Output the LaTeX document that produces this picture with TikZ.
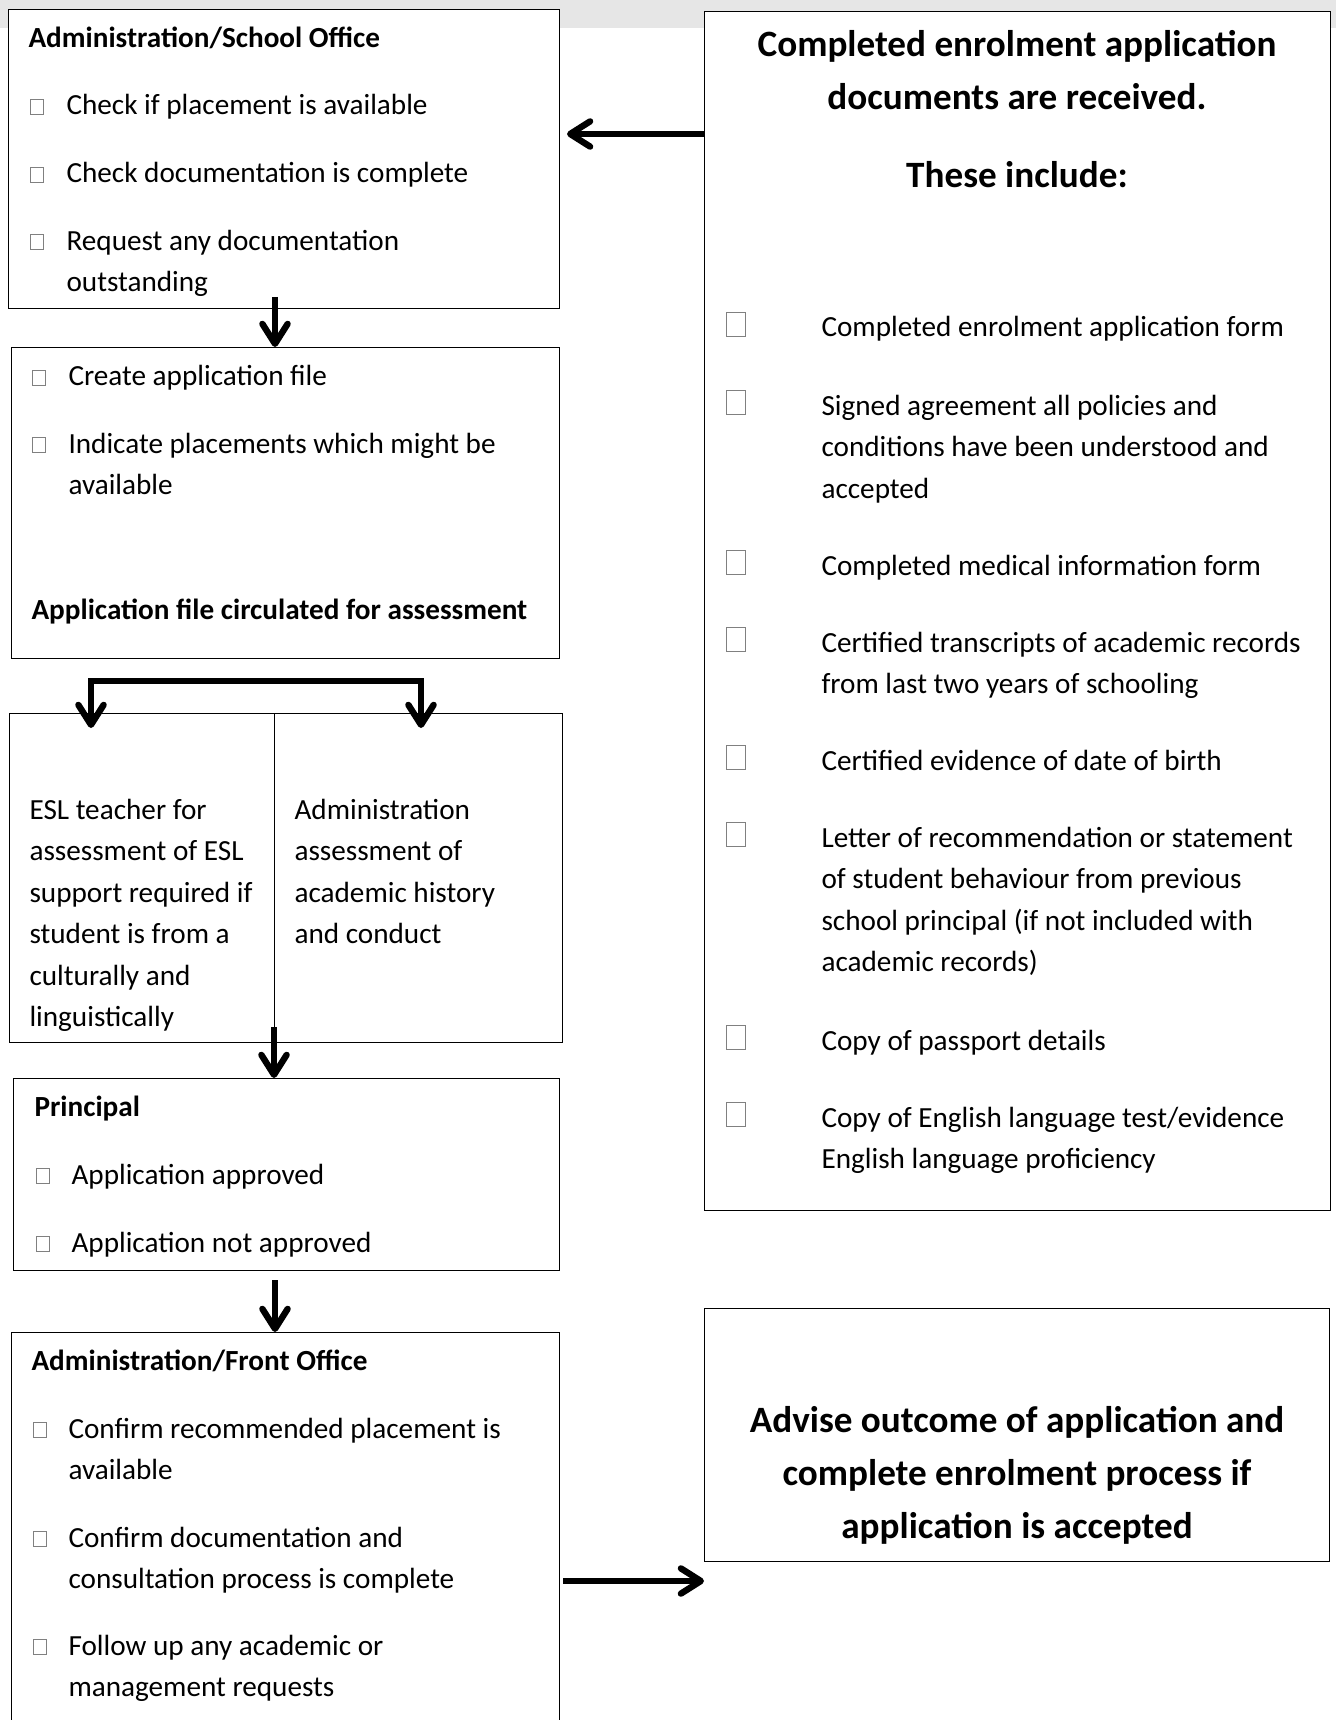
\documentclass[tikz,border=0pt]{standalone}
\usepackage{fontspec}
\setmainfont{Carlito}
\usetikzlibrary{arrows.meta}
\newcommand{\upx}{0.3767pt}
\definecolor{bandgrey}{HTML}{E6E6E6}

\begin{document}
\begin{tikzpicture}[
    x=\upx, y=-\upx,
    font=\fontsize{11}{15.6}\selectfont,
    >={Straight Barb[length=7.5pt,width=9.5pt,round]},
    box/.style={draw, line width=0.5pt, anchor=north west, inner sep=0pt, fill=white},
    tick/.style={draw=black!50, line width=0.35pt, anchor=south west, inner sep=0pt,
        minimum width=13*\upx, minimum height=15*\upx},
    bigtick/.style={tick, minimum width=19*\upx, minimum height=24*\upx},
    txt/.style={anchor=base west, align=left, inner sep=0pt},
    head/.style={txt, font=\fontsize{11}{15.6}\selectfont\bfseries},
    big/.style={anchor=base, inner sep=0pt, font=\fontsize{14}{20}\selectfont\bfseries},
    flow/.style={line width=2.4pt, ->}
]
    \useasboundingbox (0,0) rectangle (1336,1720);
    \clip (0,0) rectangle (1336,1720);
    \fill[bandgrey] (0,0) rectangle (1336,28);

    \node[box, minimum width=551*\upx, minimum height=299*\upx] (A) at (8,9) {};
    \node[box, minimum width=548*\upx, minimum height=311*\upx] (B) at (11,347) {};
    \node[box, minimum width=265*\upx, minimum height=329*\upx] (C1) at (9,713) {};
    \node[box, minimum width=288*\upx, minimum height=329*\upx] (C2) at (274,713) {};
    \node[box, minimum width=546*\upx, minimum height=192*\upx] (D) at (13,1078) {};
    \node[box, minimum width=548*\upx, minimum height=420*\upx] (E) at (11,1332) {};
    \node[box, minimum width=626*\upx, minimum height=1199*\upx] (R1) at (704,11) {};
    \node[box, minimum width=625*\upx, minimum height=253*\upx] (R2) at (704,1308) {};

    % multi-line texts sit on the baseline of their last line
    \node[head] (a0) at (28,48) {Administration/School Office};
    \node[tick] (ta1) at (30,115) {};
    \node[txt] (a1) at (66,115) {Check if placement is available};
    \node[tick] (ta2) at (30,183) {};
    \node[txt] (a2) at (66,183) {Check documentation is complete};
    \node[tick] (ta3) at (30,250) {};
    \node[txt] (a3) at (66,291.5) {Request any documentation\\outstanding};

    \node[tick] (tb1) at (32,386) {};
    \node[txt] (b1) at (68,386) {Create application file};
    \node[tick] (tb2) at (32,453) {};
    \node[txt] (b2) at (68,494.5) {Indicate placements which might be\\available};
    \node[head] (b3) at (31,619) {Application file circulated for assessment};

    \node[txt] (c1) at (29,1026.5) {ESL teacher for\\assessment of ESL\\support required if\\student is from a\\culturally and\\linguistically};
    \node[txt] (c2) at (294,943.5) {Administration\\assessment of\\academic history\\and conduct};

    \node[head] (d0) at (34,1116) {Principal};
    \node[tick] (td1) at (36,1184) {};
    \node[txt] (d1) at (71,1184) {Application approved};
    \node[tick] (td2) at (36,1252) {};
    \node[txt] (d2) at (71,1252) {Application not approved};

    \node[head] (e0) at (31,1370) {Administration/Front Office};
    \foreach \yb/\yl/\t [count=\i] in {1438/1479.5/{Confirm recommended placement is\\available},
        1547/1588.5/{Confirm documentation and\\consultation process is complete},
        1655/1696.5/{Follow up any academic or\\management requests}} {
        \node[tick] (te\i) at (33,\yb) {};
        \node[txt] (e\i) at (68,\yl) {\t};
    }

    \node[big] (r0a) at (1017,57) {Completed enrolment application};
    \node[big] (r0b) at (1017,110) {documents are received.};
    \node[big] (r0c) at (1017,188) {These include:};
    \foreach \yb/\yl/\t [count=\i] in {337/337/{Completed enrolment application form},
        415/498/{Signed agreement all policies and\\conditions have been understood and\\accepted},
        575/575/{Completed medical information form},
        652/693.5/{Certified transcripts of academic records\\from last two years of schooling},
        770/770/{Certified evidence of date of birth},
        847/971.5/{Letter of recommendation or statement\\of student behaviour from previous\\school principal (if not included with\\academic records)},
        1050/1050/{Copy of passport details},
        1127/1168.5/{Copy of English language test/evidence\\English language proficiency}} {
        \node[bigtick] (tr\i) at (726,\yb) {};
        \node[txt] (r\i) at (821,\yl) {\t};
    }

    \node[big] (s1) at (1017,1432) {Advise outcome of application and};
    \node[big] (s2) at (1017,1485) {complete enrolment process if};
    \node[big] (s3) at (1017,1538) {application is accepted};

    \coordinate (inA) at (567,134);
    \coordinate (outA) at (275,297);
    \coordinate (tl) at (91,728);
    \coordinate (tr) at (421,728);
    \coordinate (fr) at (421,681);
    \coordinate (outC) at (274,1027);
    \coordinate (outD) at (275,1280);
    \coordinate (outE) at (563,1581);
    \draw[flow] (R1.west |- inA) -- (inA);
    \draw[flow] (outA) -- (B.north -| outA);
    \draw[flow,<->] (tl) |- (fr) -- (tr);
    \draw[flow] (outC) -- (D.north -| outC);
    \draw[flow] (outD) -- (E.north -| outD);
    \draw[flow] (outE) -- (R2.west |- outE);
\end{tikzpicture}
\end{document}
